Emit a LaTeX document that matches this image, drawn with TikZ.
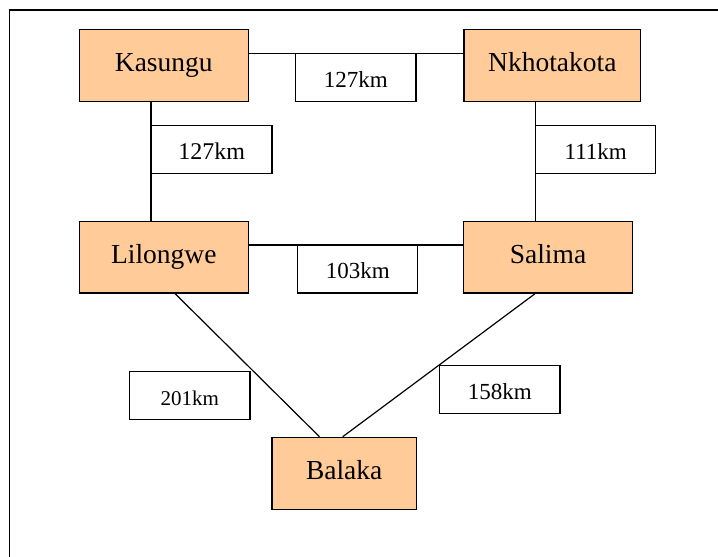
\documentclass[tikz,border=0pt]{standalone}
\usepackage{fontspec}
\setmainfont{Liberation Serif}
\usetikzlibrary{calc}
\definecolor{townfill}{HTML}{FFCC99}
\tikzset{
  town/.style={draw=black, line width=1.2pt, fill=townfill, inner sep=0pt,
    font=\fontsize{27.5}{30}\selectfont, text height=18.8pt, text depth=6pt},
  dist/.style={draw=black, line width=1.2pt, fill=white, inner sep=0pt,
    minimum width=120.3pt, minimum height=47.5pt,
    font=\fontsize{23}{26}\selectfont, text height=19pt, text depth=0pt},
  road/.style={draw=black, line width=1.2pt}
}
\begin{document}
\begin{tikzpicture}[x=1pt, y=-1pt]
\useasboundingbox (0,0) rectangle (718,557);
% outer frame
\draw[line width=1.3pt] (9.5,10) rectangle (760,600);

% towns
\node[town, minimum width=169pt, minimum height=72pt] (kas) at (163.8,65.3) {Kasungu};
\node[town, minimum width=176.7pt, minimum height=72pt] (nk) at (552.3,65.3) {Nkhotakota};
\node[town, minimum width=169pt, minimum height=71.7pt] (lil) at (163.8,257.2) {Lilongwe};
\node[town, minimum width=168.6pt, minimum height=71.7pt] (sal) at (548,257.2) {Salima};
\node[town, minimum width=144.3pt, minimum height=72.4pt] (bal) at (344.2,473.5) {Balaka};

% distance labels
\node[dist] (d1) at (355.8,77.6) {127km};
\node[dist, font=\fontsize{24}{27}\selectfont] (d2) at (211.8,149.5) {127km};
\node[dist] (d3) at (357.7,269.3) {103km};
\node[dist, minimum width=120pt] (d4) at (595.7,149.5) {111km};
\node[dist, minimum width=120.7pt, font=\fontsize{21}{24}\selectfont] (d5) at (189.7,395.5) {201km};
\node[dist] (d6) at (499.8,389.5) {158km};

% roads
\draw[road] (kas.east |- d1.north) -- (nk.west |- d1.north);
\draw[road] (kas.south -| d2.west) -- (lil.north -| d2.west);
\draw[road] (nk.south -| d4.west) -- (sal.north -| d4.west);
\draw[road] (lil.east |- d3.north) -- (sal.west |- d3.north);
\draw[road] ($(lil.south west)+(96.4,0)$) -- ($(bal.north west)+(48,0)$);
\draw[road] ($(sal.south west)+(72,0)$) -- ($(bal.north west)+(71.3,0)$);
\end{tikzpicture}
\end{document}
